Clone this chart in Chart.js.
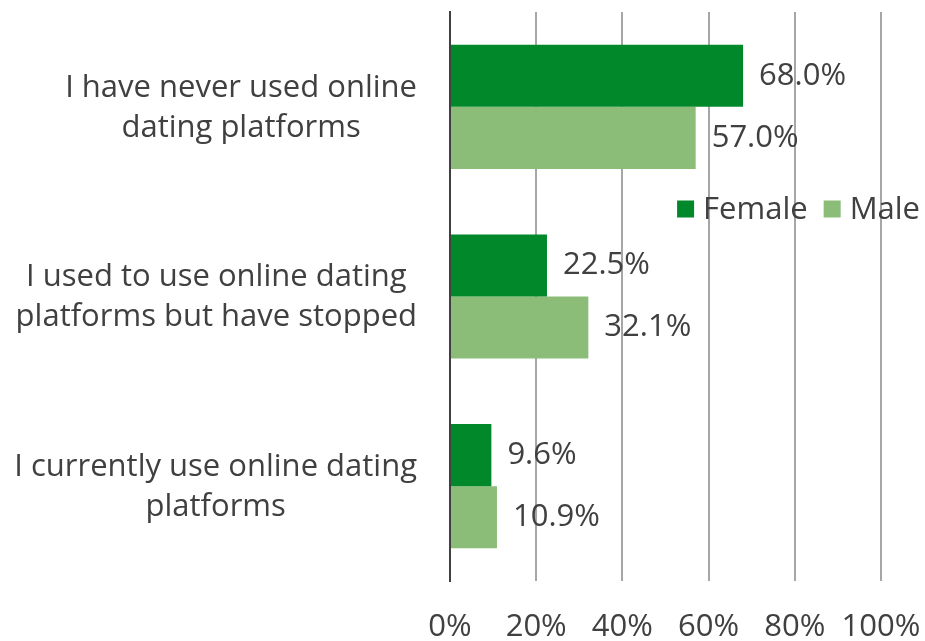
<!DOCTYPE html>
<html lang="en">
<head>
    <meta charset="UTF-8">
    <title>Online dating use by gender</title>
    <script src="https://cdn.jsdelivr.net/npm/chart.js"></script>
    <style>
        html, body {
            margin: 0;
            padding: 0;
            background-color: #fff;
        }
        .chart-wrap {
            width: 925px;
            height: 641px;
        }
    </style>
</head>
<body>
    <div class="chart-wrap">
        <canvas id="datingChart" width="925" height="641"></canvas>
    </div>

    <script>
        // Chart data
        const categories = [
            ['I have never used online', 'dating platforms'],
            ['I used to use online dating', 'platforms but have stopped'],
            ['I currently use online dating', 'platforms']
        ];
        const femaleValues = [68.0, 22.5, 9.6];
        const maleValues = [57.0, 32.1, 10.9];
        const tickValues = [0, 20, 40, 60, 80, 100];

        const fontFamily = '"Open Sans", "DejaVu Sans", sans-serif';
        const textColor = '#404040';
        const fontSize = 31;

        // category labels: block right-aligned, lines centred inside the block
        const categoryLabels = {
            id: 'categoryLabels',
            afterDraw(chart) {
                const ctx = chart.ctx;
                const yScale = chart.scales.y;
                const rightEdge = yScale.right - 33;
                const lineH = 40;
                ctx.save();
                ctx.font = fontSize + 'px ' + fontFamily;
                ctx.fillStyle = textColor;
                ctx.textAlign = 'center';
                ctx.textBaseline = 'middle';
                chart.data.labels.forEach((lines, i) => {
                    const yMid = yScale.getPixelForTick(i) + 1;
                    const widest = Math.max(...lines.map(l => ctx.measureText(l).width));
                    const cx = rightEdge - widest / 2;
                    const top = yMid - (lines.length - 1) * lineH / 2;
                    lines.forEach((l, j) => ctx.fillText(l, cx, top + j * lineH));
                });
                ctx.restore();
            }
        };

        // value labels at bar ends
        const valueLabels = {
            id: 'valueLabels',
            afterDatasetsDraw(chart) {
                const ctx = chart.ctx;
                ctx.save();
                ctx.font = fontSize + 'px ' + fontFamily;
                ctx.fillStyle = textColor;
                ctx.textAlign = 'left';
                ctx.textBaseline = 'middle';
                chart.data.datasets.forEach((ds, di) => {
                    chart.getDatasetMeta(di).data.forEach((bar, i) => {
                        ctx.fillText(ds.data[i].toFixed(1) + '%', bar.x + 16, bar.y);
                    });
                });
                ctx.restore();
            }
        };

        // legend drawn inside the plot, right side
        const insideLegend = {
            id: 'insideLegend',
            afterDraw(chart) {
                const ctx = chart.ctx;
                const box = 17;
                const gap = 9;
                const itemGap = 16;
                const yMid = 209;
                ctx.save();
                ctx.font = fontSize + 'px ' + fontFamily;
                ctx.textBaseline = 'middle';
                const items = chart.data.datasets.map(ds => ({
                    text: ds.label,
                    color: ds.backgroundColor,
                    w: box + gap + ctx.measureText(ds.label).width
                }));
                const total = items.reduce((s, it) => s + it.w, 0) + itemGap * (items.length - 1);
                let x = chart.width - 5 - total;
                items.forEach(it => {
                    ctx.fillStyle = it.color;
                    ctx.fillRect(x, yMid - box / 2, box, box);
                    ctx.fillStyle = textColor;
                    ctx.textAlign = 'left';
                    ctx.fillText(it.text, x + box + gap, yMid + 1);
                    x += it.w + itemGap;
                });
                ctx.restore();
            }
        };

        const ctx = document.getElementById('datingChart').getContext('2d');
        const datingChart = new Chart(ctx, {
            type: 'bar',
            data: {
                labels: categories,
                datasets: [
                    {
                        label: 'Female',
                        data: femaleValues,
                        backgroundColor: '#00882b',
                        categoryPercentage: 0.655,
                        barPercentage: 1.0
                    },
                    {
                        label: 'Male',
                        data: maleValues,
                        backgroundColor: '#8bbd78',
                        categoryPercentage: 0.655,
                        barPercentage: 1.0
                    }
                ]
            },
            options: {
                indexAxis: 'y',
                responsive: false,
                animation: false,
                devicePixelRatio: 1,
                layout: {
                    padding: { top: 12, right: 44, bottom: 0, left: 0 }
                },
                plugins: {
                    legend: { display: false },
                    tooltip: { enabled: false }
                },
                scales: {
                    x: {
                        min: 0,
                        max: 100,
                        afterBuildTicks(scale) {
                            scale.ticks = tickValues.map(v => ({ value: v }));
                        },
                        afterFit(scale) {
                            scale.height = 60;
                            scale.paddingLeft = 0;
                            scale.paddingRight = 0;
                        },
                        grid: {
                            color: '#a6a6a6',
                            lineWidth: 2,
                            drawTicks: false
                        },
                        border: { display: false },
                        ticks: {
                            padding: 28,
                            color: textColor,
                            font: { family: fontFamily, size: fontSize },
                            callback: v => v + '%'
                        }
                    },
                    y: {
                        afterFit(scale) {
                            scale.width = 450;
                        },
                        grid: { display: false },
                        border: { display: true, color: '#404040', width: 2 },
                        ticks: { display: false }
                    }
                }
            },
            plugins: [categoryLabels, valueLabels, insideLegend]
        });
    </script>
</body>
</html>
